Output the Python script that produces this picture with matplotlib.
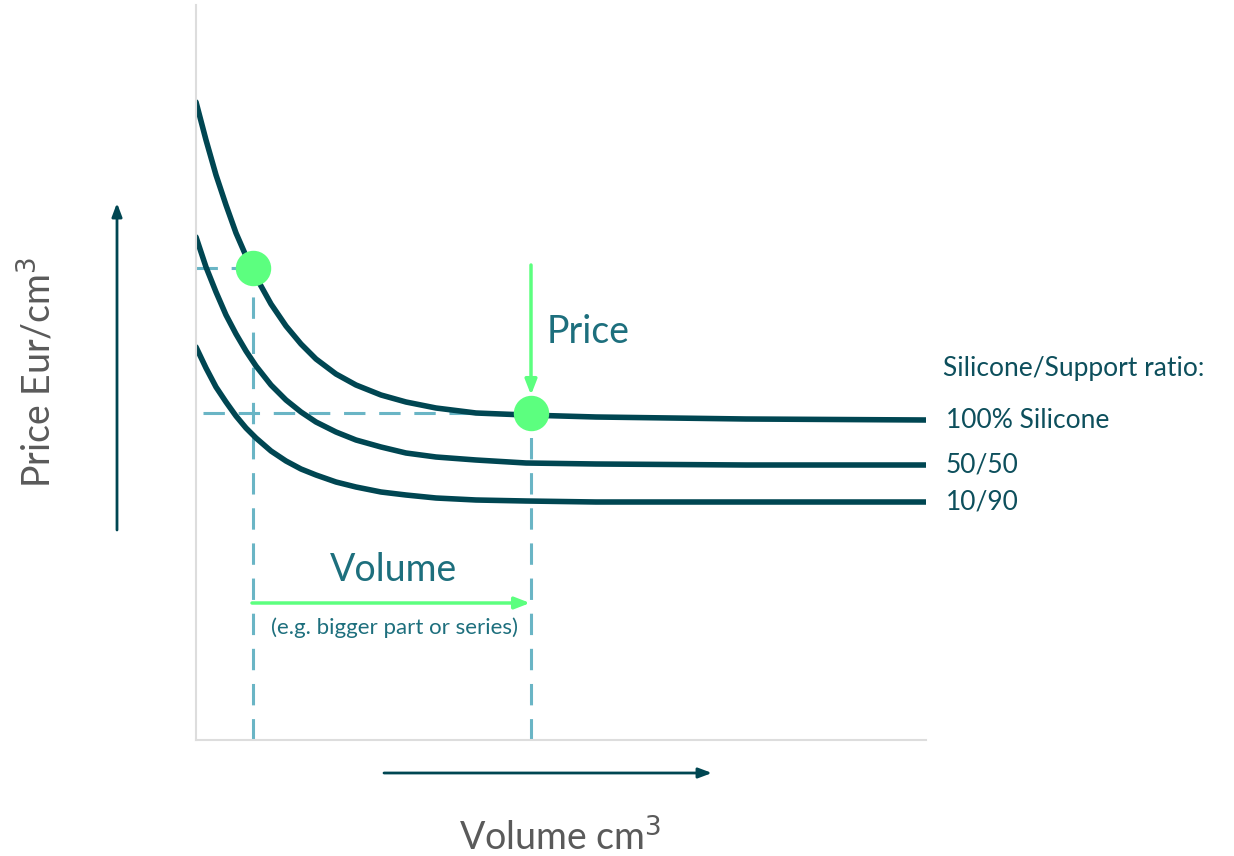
import numpy as np
import matplotlib
matplotlib.use("Agg")
import matplotlib.pyplot as plt

# ----------------------------
# Data (arbitrary units: volume / price)
# ----------------------------
volume = [0, 10, 20, 30, 40, 50, 60, 75, 90, 105, 120, 140, 160, 185, 210, 240, 280, 330, 400, 550, 730]
price_100 = [638, 600, 565, 535, 507, 484, 463, 436, 414, 396, 381, 366, 355, 345, 338, 332, 327, 325, 323, 321, 320]
price_50 = [503, 473, 448, 425, 406, 389, 374, 355, 340, 328, 318, 308, 300, 293, 287, 283, 280, 277, 276, 275, 275]
price_10 = [393, 372, 353, 338, 324, 312, 302, 289, 279, 271, 265, 258, 253, 248, 245, 242, 240, 239, 238, 238, 238]

series_labels = ["100% Silicone", "50/50", "10/90"]
legend_title = "Silicone/Support ratio:"

# the two highlighted points on the 100% curve
point_volume = [57, 335]
point_price = [472, 327]

# ----------------------------
# Style
# ----------------------------
CURVE = "#004652"
DASH = "#6ab5c5"
GREEN = "#5cff7f"
TEAL = "#1d6f7d"
GREY = "#5a5a5a"
plt.rcParams['font.family'] = ['Lato', 'DejaVu Sans']

fig = plt.figure(figsize=(12.34, 8.56), dpi=100)
ax = fig.add_axes([196 / 1234, 116 / 856, 730 / 1234, 735 / 856])
ax.set_xlim(0, 730)
ax.set_ylim(0, 735)
ax.set_xticks([])
ax.set_yticks([])
for side in ["top", "right"]:
    ax.spines[side].set_visible(False)
for side in ["left", "bottom"]:
    ax.spines[side].set_color("#dddddd")
    ax.spines[side].set_linewidth(1.5)

# dashed guides
dash_kw = dict(color=DASH, lw=2.2, dashes=(7, 4.5), zorder=1)
ax.plot([0, point_volume[0]], [point_price[0]] * 2, **dash_kw)
ax.plot([point_volume[0]] * 2, [0, point_price[0]], **dash_kw)
ax.plot([7, point_volume[1]], [point_price[1]] * 2, **dash_kw)
ax.plot([point_volume[1]] * 2, [0, point_price[1]], **dash_kw)

# curves
for yv in [price_100, price_50, price_10]:
    ax.plot(volume, yv, color=CURVE, lw=4, solid_capstyle="round", solid_joinstyle="round", zorder=2)

# points
ax.plot(point_volume, point_price, "o", color=GREEN, ms=24.5, zorder=3)

# right labels
ends = [price_100[-1], price_50[-1], price_10[-1]]
for lbl, yv in zip(series_labels, ends):
    ax.text(750, yv, lbl, color="#0d4f5c", fontsize=19, va="center", ha="left", clip_on=False)
ax.text(747, 372, legend_title, color="#0d4f5c", fontsize=19, va="center", ha="left", clip_on=False)

# green arrows
green_kw = dict(arrowstyle="-|>,head_width=0.35,head_length=0.9", color=GREEN, lw=2.5, shrinkA=0, shrinkB=0)
ax.annotate("", xy=(point_volume[1], 345), xytext=(point_volume[1], 475), arrowprops=green_kw)
ax.annotate("", xy=(334, 137), xytext=(56, 137), arrowprops=green_kw)
ax.text(392, 408, "Price", color=TEAL, fontsize=27, ha="center", va="center")
ax.text(198, 170, "Volume", color=TEAL, fontsize=27, ha="center", va="center")
ax.text(198, 112, "(e.g. bigger part or series)", color=TEAL, fontsize=16, ha="center", va="center")

# axis arrows outside the plot
axis_kw = dict(arrowstyle="-|>,head_width=0.3,head_length=0.8", color=CURVE, lw=2, shrinkA=0, shrinkB=0)
ax.annotate("", xy=(-79, 537), xytext=(-79, 210), arrowprops=axis_kw, annotation_clip=False)
ax.annotate("", xy=(516, -33), xytext=(188, -33), arrowprops=axis_kw, annotation_clip=False)

ax.text(-158, 368, "Price Eur/cm$^3$", color=GREY, fontsize=27, rotation=90, ha="center", va="center", clip_on=False)
ax.text(364, -98, "Volume cm$^3$", color=GREY, fontsize=27, ha="center", va="center", clip_on=False)

plt.savefig("out.png", dpi=100)
plt.close()
